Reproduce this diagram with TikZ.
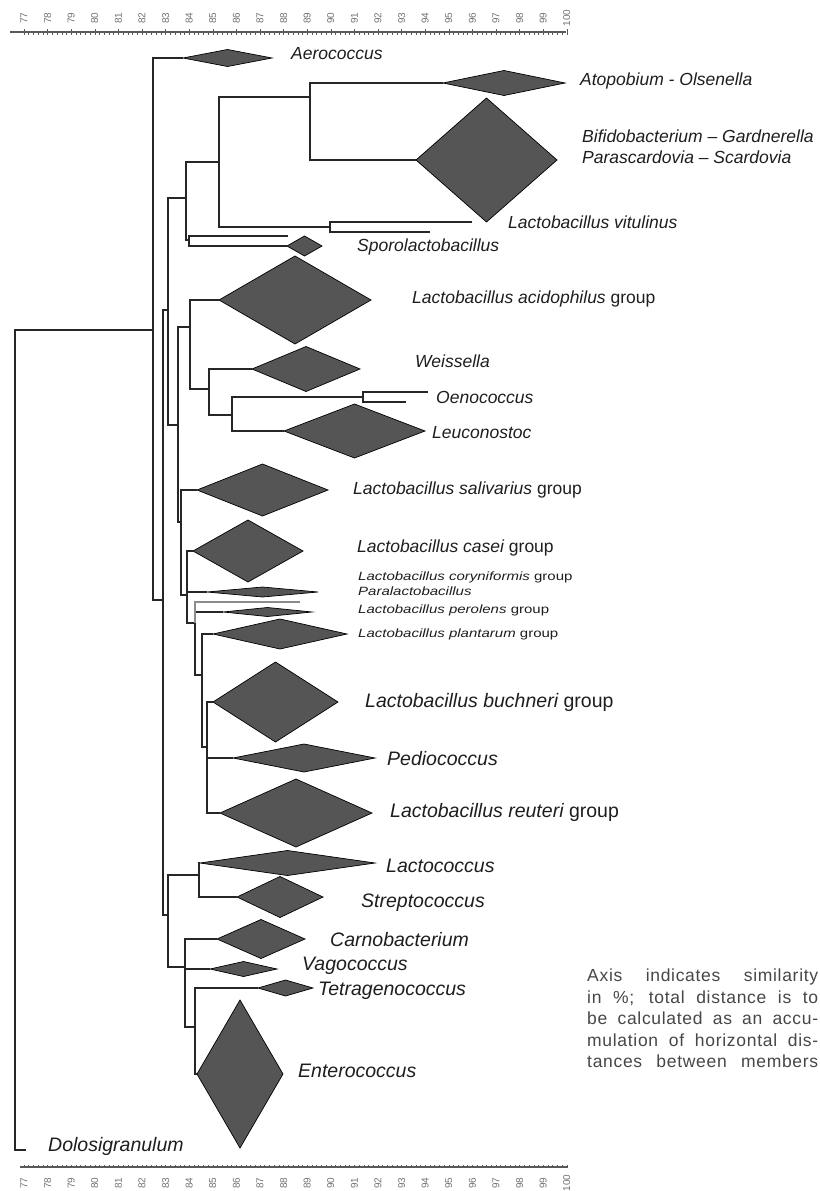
\documentclass[tikz,border=0pt]{standalone}
\usepackage{fontspec}
\setmainfont{Liberation Sans}
\newfontfamily\notefont[LetterSpace=4]{Liberation Sans}
\usepackage{graphicx}
\usetikzlibrary{shapes.geometric}
\definecolor{txt}{HTML}{1E1E1E}
\definecolor{dfill}{HTML}{555555}
\tikzset{
  br/.style={draw=black!85, line width=1.3pt},
  dmd/.style={diamond, draw=black, fill=dfill, line width=0.7pt, inner sep=0pt, outer sep=0pt},
  lab/.style={anchor=mid west, inner sep=0pt, text=txt, font=\fontsize{17.5}{21}\selectfont\itshape},
  labbig/.style={anchor=mid west, inner sep=0pt, text=txt, font=\fontsize{19.5}{22}\selectfont\itshape},
  labsmall/.style={anchor=mid west, inner sep=0pt, text=txt, font=\fontsize{15}{16}\selectfont\itshape},
  axline/.style={draw=black!65, line width=1.1pt},
  tck/.style={draw=black!65, line width=0.5pt},
  num/.style={rotate=90, inner sep=0pt, text=black!55, font=\fontsize{10}{10}\selectfont},
}
\begin{document}
\begin{tikzpicture}[x=1pt,y=-1pt]
\fill[white] (0,0) rectangle (819,1191);
\useasboundingbox (0,0) rectangle (819,1191);

% ---------- axes ----------
\coordinate (ta1) at (10,32); \coordinate (ta2) at (566,32);
\draw[axline] (ta1) -- (ta2);
\coordinate (ba1) at (20,1167); \coordinate (ba2) at (568,1167);
\draw[axline] (ba1) -- (ba2);
\foreach \i in {0,...,115} {
  \pgfmathsetmacro\xx{24+4.72*\i}
  \draw[tck] (\xx,32) -- (\xx,34.5);
  \draw[tck] (\xx,1167) -- (\xx,1164.5);
}
\foreach \n in {77,...,100} {
  \pgfmathsetmacro\xx{24+23.6*(\n-77)}
  \draw[tck] (\xx,32) -- (\xx,28.5);
  \node[num] (tn\n) at (\xx,18) {\n};
  \node[num] (bn\n) at (\xx,1183) {\n};
}

% ---------- diamonds (leaves) ----------
\node[dmd, minimum width=89pt,  minimum height=17pt]  (aero) at (227.5,58) {};
\node[dmd, minimum width=122pt, minimum height=25pt]  (atop) at (504,83) {};
\node[dmd, minimum width=141pt, minimum height=124pt] (bifi) at (486.5,160) {};
\node[dmd, minimum width=35pt,  minimum height=20pt]  (spo)  at (304.5,246) {};
\node[dmd, minimum width=152pt, minimum height=88pt]  (acid) at (295,300) {};
\node[dmd, minimum width=108pt, minimum height=45pt]  (weis) at (306,369) {};
\node[dmd, minimum width=141pt, minimum height=54pt]  (leuc) at (354.5,431) {};
\node[dmd, minimum width=131pt, minimum height=52pt]  (sali) at (262.5,490) {};
\node[dmd, minimum width=110pt, minimum height=62pt]  (case) at (248,551) {};
\node[dmd, minimum width=111pt, minimum height=10pt]  (cory) at (262.5,592) {};
\node[dmd, minimum width=89pt,  minimum height=9pt]   (pero) at (267.5,612) {};
\node[dmd, minimum width=134pt, minimum height=30pt]  (plan) at (280,634) {};
\node[dmd, minimum width=125pt, minimum height=80pt]  (buch) at (275.5,702) {};
\node[dmd, minimum width=142pt, minimum height=28pt]  (pedi) at (304,758) {};
\node[dmd, minimum width=152pt, minimum height=68pt]  (reut) at (296,813) {};
\node[dmd, minimum width=175pt, minimum height=25pt]  (lcoc) at (287.5,863) {};
\node[dmd, minimum width=86pt,  minimum height=41pt]  (strp) at (280,897) {};
\node[dmd, minimum width=88pt,  minimum height=39pt]  (carn) at (261,939) {};
\node[dmd, minimum width=67pt,  minimum height=15pt]  (vago) at (243.5,969) {};
\node[dmd, minimum width=55pt,  minimum height=16pt]  (tetr) at (285.5,988) {};
\node[dmd, minimum width=86pt,  minimum height=148pt] (ente) at (240,1074) {};

% ---------- line leaves ----------
\coordinate (vit1) at (472,222);
\coordinate (vit2) at (430,232);
\coordinate (spoL) at (288,236);
\coordinate (oen1) at (428,392);
\coordinate (oen2) at (406,402);
\coordinate (para) at (300,602);
\coordinate (dolo) at (26,1150);

% ---------- internal nodes ----------
\coordinate (R0) at (15,330);
\coordinate (A)  at (153,330);
\coordinate (B)  at (163,600);
\coordinate (C)  at (168,310);
\coordinate (D)  at (186,198);
\coordinate (E)  at (219,162);
\coordinate (F)  at (310,97);
\coordinate (Vn) at (330,227);
\coordinate (Sn) at (189,240);
\coordinate (G)  at (178,425);
\coordinate (H)  at (190,327);
\coordinate (I)  at (209,389);
\coordinate (J)  at (232,415);
\coordinate (K)  at (363,397);
\coordinate (L)  at (181,522);
\coordinate (M)  at (187,595);
\coordinate (N)  at (195,623);
\coordinate (O)  at (202,675);
\coordinate (P)  at (207,747);
\coordinate (Q)  at (168,915);
\coordinate (Rn) at (199,875);
\coordinate (S)  at (185,967);
\coordinate (T)  at (195,1027);

% ---------- branches ----------
\draw[br] (A) -- (R0) |- (dolo);
\draw[br] (aero.west) -| (A) |- (B);
\draw[br] (C) -| (B) |- (Q);
\draw[br] (D) -| (C) |- (G);
\draw[br] (E) -| (D) |- (Sn);
\draw[br] (F) -| (E) |- (Vn);
\draw[br] (atop.west) -| (F) |- (bifi.west);
\draw[br] (vit1) -| (Vn) |- (vit2);
\draw[br] (spoL) -| (Sn) |- (spo.west);
\draw[br] (H) -| (G) |- (L);
\draw[br] (acid.west) -| (H) |- (I);
\draw[br] (weis.west) -| (I) |- (J);
\draw[br] (K) -| (J) |- (leuc.west);
\draw[br] (oen1) -| (K) |- (oen2);
\draw[br] (sali.west) -| (L) |- (M);
\draw[br] (case.west) -| (M) |- (N);
\draw[br] (M) |- (cory.west);
\draw[br] (pero.west) -| (N) |- (O);
\draw[br, draw=black!45, line width=1.8pt] (N) |- (para);
\draw[br] (plan.west) -| (O) |- (P);
\draw[br] (buch.west) -| (P) |- (reut.west);
\draw[br] (P) |- (pedi.west);
\draw[br] (Rn) -| (Q) |- (S);
\draw[br] (lcoc.west) -| (Rn) |- (strp.west);
\draw[br] (carn.west) -| (S) |- (T);
\draw[br] (S) |- (vago.west);
\draw[br] (tetr.west) -| (T) |- (ente.west);

% ---------- labels ----------
\node[lab] (lAero) at (291,57) {Aerococcus};
\node[lab] (lAtop) at (580,83) {Atopobium - Olsenella};
\node[lab, align=left] (lBifi) at (582,161) {Bifidobacterium – Gardnerella\\Parascardovia – Scardovia};
\node[lab] (lVit) at (508,226) {Lactobacillus vitulinus};
\node[lab] (lSpo) at (357,249) {Sporolactobacillus};
\node[lab] (lAcid) at (412,301) {Lactobacillus acidophilus \upshape group};
\node[lab] (lWeis) at (415,365) {Weissella};
\node[lab] (lOen) at (436,401) {Oenococcus};
\node[lab] (lLeuc) at (432,436) {Leuconostoc};
\node[lab] (lSali) at (353,492) {Lactobacillus salivarius \upshape group};
\node[lab] (lCase) at (357,550) {Lactobacillus casei \upshape group};
\node[labsmall] (lCory) at (358,578) {\scalebox{1}[0.8]{Lactobacillus coryniformis \upshape group}};
\node[labsmall] (lPara) at (358,593) {\scalebox{1}[0.8]{Paralactobacillus}};
\node[labsmall] (lPero) at (358,611) {\scalebox{1}[0.8]{Lactobacillus perolens \upshape group}};
\node[labsmall] (lPlan) at (358,635) {\scalebox{1}[0.8]{Lactobacillus plantarum \upshape group}};
\node[labbig] (lBuch) at (365,705) {Lactobacillus buchneri \upshape group};
\node[labbig] (lPedi) at (387,763) {Pediococcus};
\node[labbig] (lReut) at (390,815) {Lactobacillus reuteri \upshape group};
\node[labbig] (lLcoc) at (386,870) {Lactococcus};
\node[labbig] (lStrp) at (361,905) {Streptococcus};
\node[labbig] (lCarn) at (330,944) {Carnobacterium};
\node[labbig] (lVago) at (302,968) {Vagococcus};
\node[labbig] (lTetr) at (318,993) {Tetragenococcus};
\node[labbig] (lEnte) at (298,1075) {Enterococcus};
\node[labbig] (lDolo) at (48,1149) {Dolosigranulum};

% ---------- note ----------
\node[anchor=north west, inner sep=0pt, align=left, text=black!72,
      font=\notefont\fontsize{17.5}{21.5}\selectfont] (note) at (587,969)
 {\makebox[231pt][s]{Axis indicates similarity}\\
  \makebox[231pt][s]{in \%; total distance is to}\\
  \makebox[231pt][s]{be calculated as an accu-}\\
  \makebox[231pt][s]{mulation of horizontal dis-}\\
  \makebox[231pt][s]{tances between members}};
\end{tikzpicture}
\end{document}
